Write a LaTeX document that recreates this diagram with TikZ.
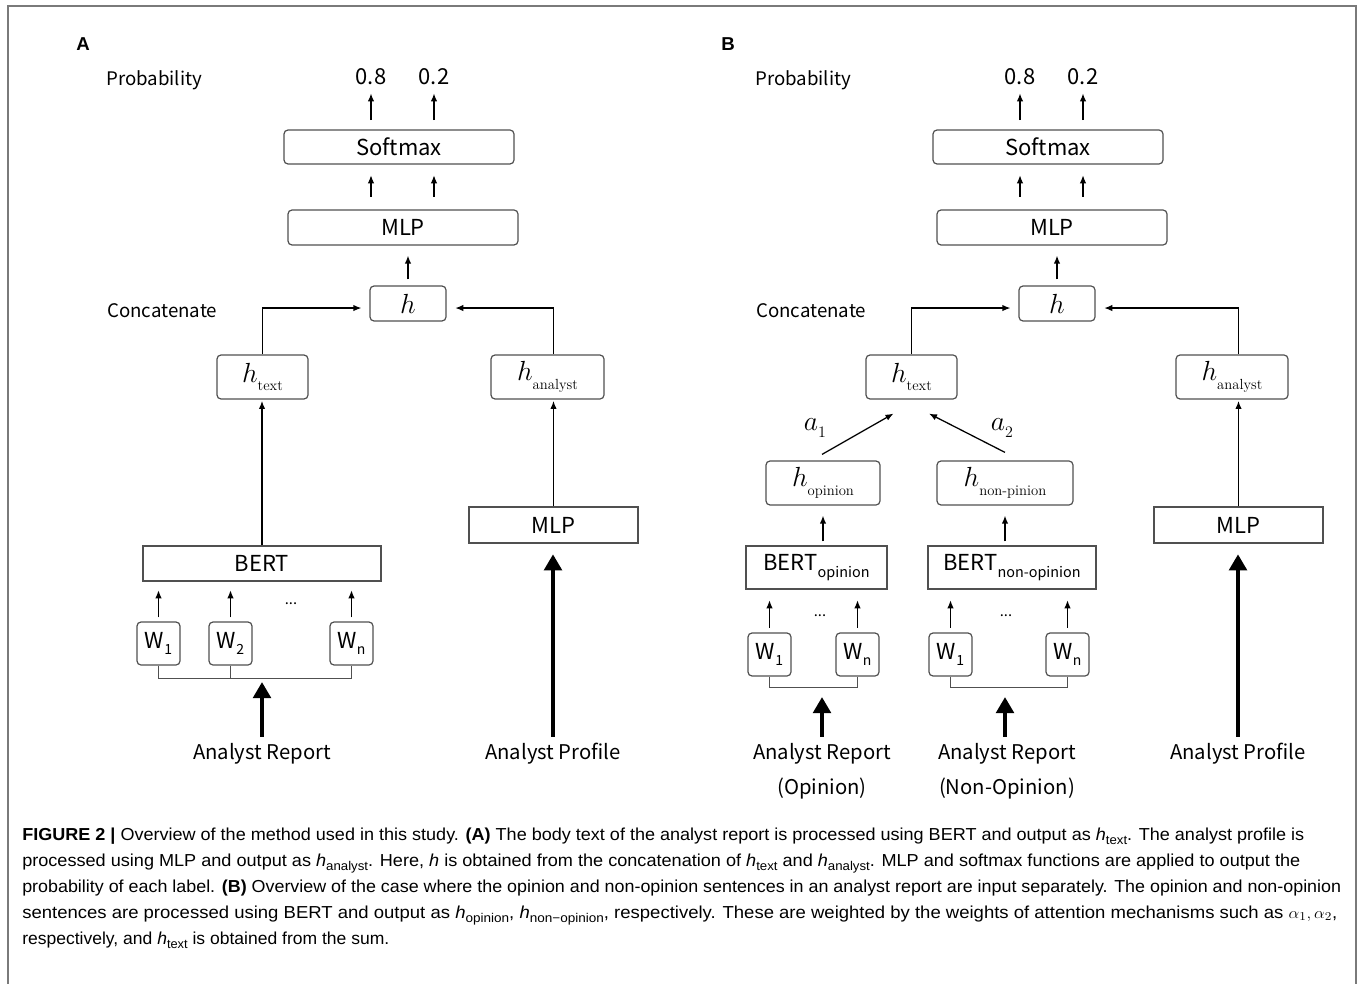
\documentclass[tikz,border=0pt]{standalone}
\usepackage{fontspec}
\usepackage{graphicx}
\usetikzlibrary{arrows.meta,calc}
\newfontfamily\dfont{Noto Sans CJK JP}
\newfontfamily\cfont{Liberation Sans}
\definecolor{boxc}{HTML}{505050}
\definecolor{framec}{HTML}{7A7A7A}
\newcommand\dsz{\fontsize{16.5}{19}\selectfont}
\newcommand\hbig{{\fontsize{21}{23}\selectfont$h$}}
\newcommand\hsym[1]{\hbig\raisebox{-6.3pt}{\fontsize{11}{12}\selectfont\rmfamily #1}}
\newcommand\asym[1]{{\fontsize{20}{22}\selectfont$a$}\raisebox{-5.5pt}{\fontsize{12}{14}\selectfont\rmfamily #1}}
\newcommand\wsym[1]{W\raisebox{-4.5pt}{\fontsize{10.5}{12}\selectfont #1}}
\newcommand\bsub[1]{\raisebox{-5pt}{\fontsize{10.8}{12}\selectfont #1}}
\newcommand\ch[1]{\textit{h}\raisebox{-0.45ex}{\fontsize{9.5}{9}\selectfont #1}}
\newlength\capw
\newcommand\fitline[2]{\settowidth\capw{#2}\pgfmathsetmacro\capsc{#1/\capw}\scalebox{\capsc}[1]{#2}}
\tikzset{
  sz/.style 2 args={minimum width=#1*0.75pt, minimum height=#2*0.75pt},
  box/.style={draw=boxc, line width=0.9pt, inner sep=0pt, font=\dfont\dsz},
  rbox/.style={box, rounded corners=3pt},
  lab/.style={inner sep=0pt, font=\dfont\fontsize{15.2}{18}\selectfont},
  slab/.style={inner sep=0pt, font=\dfont\fontsize{14}{17}\selectfont},
  olab/.style={inner sep=0pt, font=\dfont\fontsize{16.5}{19}\selectfont},
  plabel/.style={inner sep=0pt, font=\cfont\bfseries\fontsize{14}{16}\selectfont},
  alab/.style={inner sep=0pt},
  dotl/.style={inner sep=0pt, font=\dfont\fontsize{11}{12}\selectfont},
  captxt/.style={inner sep=0pt, font=\cfont\fontsize{13}{15}\selectfont},
  arr/.style={-{Latex[length=6pt,width=4.8pt]}, line width=0.95pt},
  ln/.style={line width=0.9pt, draw=boxc},
  big/.style={-{Triangle[length=12pt,width=13pt]}, line width=3.6pt},
}
\begin{document}
\begin{tikzpicture}[x=0.75pt,y=-0.75pt]
\useasboundingbox (0,0) rectangle (1360,984);
\draw[framec, line width=1.5pt] (7.5,984) -- (7.5,6.5) -- (1355.5,6.5) -- (1355.5,984);

% ---------------- Panel A ----------------
\node[plabel] (lblA) at (83,44) {A};
\node[slab, anchor=west] (probA) at (106,80) {Probability};
\node[olab] (p8A) at (371,77) {0.8};
\node[olab] (p2A) at (434,77) {0.2};
\node[rbox, sz={230}{34}] (smA) at (399,147) {Softmax};
\node[rbox, sz={230}{35}] (mlpA) at (403,227.5) {MLP};
\node[rbox, sz={76}{35}] (hA) at (408,303.5) {\hbig};
\node[slab, anchor=west] (catA) at (107,311) {Concatenate};
\node[rbox, sz={91}{44}] (htA) at (262.5,377) {\hsym{text}};
\node[rbox, sz={113}{44}] (haA) at (547.5,377) {\hsym{analyst}};
\node[box, sz={238}{35}] (bertA) at (262,563.5) {BERT};
\node[rbox, sz={43}{43}] (w1A) at (158.5,643.5) {\wsym{1}};
\node[rbox, sz={43}{43}] (w2A) at (230.5,643.5) {\wsym{2}};
\node[rbox, sz={43}{43}] (wnA) at (351.5,643.5) {\wsym{n}};
\node[dotl, anchor=base] (dotsA) at (291,604) {...};
\node[box, sz={169}{36}] (mlp2A) at (553.5,525) {MLP};
\node[lab] (repA) at (262,754) {Analyst Report};
\node[lab] (profA) at (553,754) {Analyst Profile};
\coordinate (tipA) at (262,682);

\draw[arr, shorten <=7pt, shorten >=6pt] (smA.north -| p8A) -- (p8A.south);
\draw[arr, shorten <=7pt, shorten >=6pt] (smA.north -| p2A) -- (p2A.south);
\draw[arr, shorten <=9.5pt, shorten >=8pt] (mlpA.north -| p8A) -- (smA.south -| p8A);
\draw[arr, shorten <=9.5pt, shorten >=8pt] (mlpA.north -| p2A) -- (smA.south -| p2A);
\draw[arr, shorten <=4.5pt, shorten >=7.5pt] (hA.north) -- (mlpA.south -| hA);
\draw[arr, shorten >=6pt] (htA.north) |- ([yshift=-3.4pt]hA.west);
\draw[arr, shorten >=6.5pt] (haA.north -| mlp2A) |- ([yshift=-3.4pt]hA.east);
\draw[arr, shorten >=1pt] (bertA.north) -- (bertA.north |- htA.south);
\draw[arr, shorten <=3pt, shorten >=6.5pt] (w1A.north) -- (w1A.north |- bertA.south);
\draw[arr, shorten <=3pt, shorten >=6.5pt] (w2A.north) -- (w2A.north |- bertA.south);
\draw[arr, shorten <=3pt, shorten >=6.5pt] (wnA.north) -- (wnA.north |- bertA.south);
\draw[ln] (w1A.south) -- ++(0,13) -| (wnA.south);
\draw[ln] (w2A.south) -- ++(0,13);
\draw[big, shorten <=5pt] (repA.north) -- (tipA);
\draw[arr, shorten >=1pt] (mlp2A.north) -- (mlp2A.north |- haA.south);
\draw[big, shorten <=5pt, shorten >=8pt] (profA.north) -- (profA.north |- mlp2A.south);

% ---------------- Panel B ----------------
\node[plabel] (lblB) at (728,44) {B};
\node[slab, anchor=west] (probB) at (755,80) {Probability};
\node[olab] (p8B) at (1020,77) {0.8};
\node[olab] (p2B) at (1083,77) {0.2};
\node[rbox, sz={230}{34}] (smB) at (1048,147) {Softmax};
\node[rbox, sz={230}{35}] (mlpB) at (1052,227.5) {MLP};
\node[rbox, sz={76}{35}] (hB) at (1057,303.5) {\hbig};
\node[slab, anchor=west] (catB) at (756,311) {Concatenate};
\node[rbox, sz={91}{44}] (htB) at (911.5,377) {\hsym{text}};
\node[rbox, sz={112}{44}] (haB) at (1232,377) {\hsym{analyst}};
\node[rbox, sz={114}{44}] (hoB) at (823,483) {\hsym{opinion}};
\node[rbox, sz={136}{44}] (hnB) at (1005,483) {\hsym{non-pinion}};
\node[alab] (a1) at (815,428) {\asym{1}};
\node[alab] (a2) at (1002,428) {\asym{2}};
\node[box, sz={141}{43}] (boB) at (816.5,567.5) {BERT\bsub{opinion}};
\node[box, sz={168}{43}] (bnB) at (1012,567.5) {BERT\bsub{non-opinion}};
\node[rbox, sz={43}{43}] (w1oB) at (769.5,654.5) {\wsym{1}};
\node[rbox, sz={43}{43}] (wnoB) at (857.5,654.5) {\wsym{n}};
\node[rbox, sz={43}{43}] (w1nB) at (950.5,654.5) {\wsym{1}};
\node[rbox, sz={43}{43}] (wnnB) at (1067.5,654.5) {\wsym{n}};
\node[dotl, anchor=base] (dotsoB) at (820,616) {...};
\node[dotl, anchor=base] (dotsnB) at (1006,616) {...};
\node[box, sz={169}{36}] (mlp2B) at (1238.5,525) {MLP};
\node[lab] (repoB) at (822,754) {Analyst Report};
\node[lab] (repoB2) at (822,789) {(Opinion)};
\node[lab] (repnB) at (1007,754) {Analyst Report};
\node[lab] (repnB2) at (1007,789) {(Non-Opinion)};
\node[lab] (profB) at (1238,754) {Analyst Profile};
\coordinate (tipoB) at (822,697);
\coordinate (tipnB) at (1005,697);

\draw[arr, shorten <=7pt, shorten >=6pt] (smB.north -| p8B) -- (p8B.south);
\draw[arr, shorten <=7pt, shorten >=6pt] (smB.north -| p2B) -- (p2B.south);
\draw[arr, shorten <=9.5pt, shorten >=8pt] (mlpB.north -| p8B) -- (smB.south -| p8B);
\draw[arr, shorten <=9.5pt, shorten >=8pt] (mlpB.north -| p2B) -- (smB.south -| p2B);
\draw[arr, shorten <=4.5pt, shorten >=7.5pt] (hB.north) -- (mlpB.south -| hB);
\draw[arr, shorten >=6pt] (htB.north) |- ([yshift=-3.4pt]hB.west);
\draw[arr, shorten >=6.5pt] (haB.north -| mlp2B) |- ([yshift=-3.4pt]hB.east);
\draw[arr] ($(hoB.north)+(-1,-6)$) -- ($(htB.south)+(-18,14)$);
\draw[arr] ($(hnB.north)+(0,-8)$) -- ($(htB.south)+(17.5,14)$);
\draw[arr, shorten <=3pt, shorten >=7.5pt] (boB.north -| hoB) -- (hoB.south);
\draw[arr, shorten <=3pt, shorten >=7.5pt] (bnB.north -| hnB) -- (hnB.south);
\draw[arr, shorten <=3.5pt, shorten >=8pt] (w1oB.north) -- (w1oB.north |- boB.south);
\draw[arr, shorten <=3.5pt, shorten >=8pt] (wnoB.north) -- (wnoB.north |- boB.south);
\draw[arr, shorten <=3.5pt, shorten >=8pt] (w1nB.north) -- (w1nB.north |- bnB.south);
\draw[arr, shorten <=3.5pt, shorten >=8pt] (wnnB.north) -- (wnnB.north |- bnB.south);
\draw[ln] (w1oB.south) -- ++(0,11) -| (wnoB.south);
\draw[ln] (w1nB.south) -- ++(0,11) -| (wnnB.south);
\draw[big, shorten <=5pt] (repoB.north) -- (tipoB);
\draw[big, shorten <=5pt] (repnB.north -| tipnB) -- (tipnB);
\draw[arr, shorten >=1pt] (mlp2B.north) -- (mlp2B.north |- haB.south);
\draw[big, shorten <=5pt, shorten >=8pt] (profB.north) -- (profB.north |- mlp2B.south);

% ---------------- Caption ----------------
\node[captxt, anchor=base west] (cap1) at (22,840) {\fitline{961.5}{\textbf{FIGURE 2 |} Overview of the method used in this study. \textbf{(A)} The body text of the analyst report is processed using BERT and output as \ch{text}. The analyst profile is}};
\node[captxt, anchor=base west] (cap2) at (22,866) {\fitline{958.5}{processed using MLP and output as \ch{analyst}. Here, \textit{h} is obtained from the concatenation of \ch{text} and \ch{analyst}. MLP and softmax functions are applied to output the}};
\node[captxt, anchor=base west] (cap3) at (22,892) {\fitline{989.25}{probability of each label. \textbf{(B)} Overview of the case where the opinion and non-opinion sentences in an analyst report are input separately. The opinion and non-opinion}};
\node[captxt, anchor=base west] (cap4) at (22,918) {\fitline{986.25}{sentences are processed using BERT and output as \ch{opinion}, \ch{non−opinion}, respectively. These are weighted by the weights of attention mechanisms such as $\alpha_1,\alpha_2$,}};
\node[captxt, anchor=base west] (cap5) at (22,944) {\fitline{275.25}{respectively, and \ch{text} is obtained from the sum.}};
\end{tikzpicture}
\end{document}
